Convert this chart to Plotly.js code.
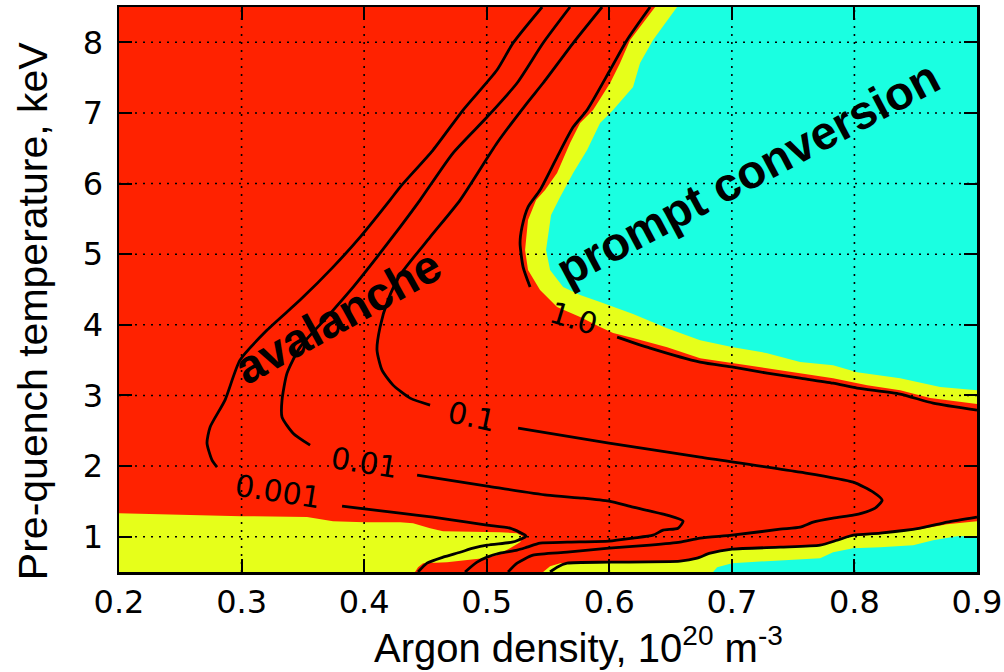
<!DOCTYPE html>
<html><head><meta charset="utf-8">
<script src="https://cdn.plot.ly/plotly-3.0.1.min.js"></script>
<style>html,body{margin:0;padding:0;background:#fff}#chart{width:1004px;height:672px}</style>
</head><body><div id="chart"></div>
<script>
// ---- axis ticks ----
var xTicks = [0.2,0.3,0.4,0.5,0.6,0.7,0.8,0.9];
var yTicks = [1,2,3,4,5,6,7,8];

// ---- filled regions (boundaries) ----
var yelBLX = [0.2,0.2,0.2996,0.3534,0.3746,0.4,0.4293,0.4399,0.4538,0.4644,0.5109,0.5248,0.5297,0.5272,0.519,0.5084,0.497,0.4807,0.4676,0.4481,0.444,0.4415];
var yelBLY = [0.5,1.333,1.291,1.277,1.22,1.206,1.206,1.191,1.12,1.078,1.064,1.05,0.993,0.922,0.837,0.738,0.696,0.667,0.639,0.625,0.568,0.5];

var yelTRX = [0.6374,0.617,0.6088,0.6007,0.5868,0.5762,0.568,0.5574,0.5476,0.5403,0.5337,0.5313,0.5337,0.5435,0.5574,0.5762,0.5925,0.6031,0.6194,0.6472,0.6741,0.701,0.7288,0.7557,0.7826,0.8104,0.8373,0.8618,0.9,0.9];
var yelTRY = [8.5,8.033,7.707,7.424,7.041,6.857,6.574,6.149,5.908,5.766,5.483,5.058,4.775,4.492,4.251,4.109,3.968,3.883,3.812,3.684,3.528,3.458,3.387,3.316,3.245,3.146,3.075,2.962,2.877,8.5];

var cyaTRX = [0.6553,0.6357,0.6251,0.6194,0.6031,0.5925,0.5819,0.5705,0.5599,0.5525,0.5484,0.5517,0.5623,0.5762,0.5925,0.6194,0.6472,0.6741,0.701,0.7288,0.7557,0.7826,0.8022,0.8373,0.87,0.9,0.9];
var cyaTRY = [8.5,8.033,7.707,7.367,7.041,6.857,6.474,6.149,5.809,5.554,5.058,4.775,4.534,4.421,4.322,4.152,3.953,3.783,3.684,3.599,3.472,3.429,3.33,3.245,3.118,3.075,8.5];

var yelBRX = [0.546,0.5517,0.5599,0.5998,0.6578,0.6716,0.6823,0.7002,0.7394,0.772,0.7859,0.799,0.821,0.8536,0.8756,0.9,0.9];
var yelBRY = [0.5,0.582,0.625,0.639,0.653,0.696,0.766,0.823,0.851,0.88,0.95,1.007,1.036,1.106,1.177,1.22,0.5];

var cyaBRX = [0.6847,0.688,0.7002,0.7614,0.772,0.7826,0.799,0.821,0.8479,0.8642,0.8838,0.9,0.9];
var cyaBRY = [0.5,0.568,0.625,0.682,0.696,0.78,0.837,0.851,0.88,0.95,1.007,1.007,0.5];

// ---- contour lines (split where labels sit) ----
var c001aX = [0.5452,0.5215,0.5084,0.4807,0.4562,0.4293,0.4211,0.3967,0.3746,0.3477,0.3208,0.2987,0.2865,0.2743,0.2718,0.2759,0.2800];
var c001aY = [8.5,7.99,7.608,7.041,6.474,5.95,5.766,5.242,4.817,4.35,3.925,3.5,2.934,2.551,2.325,2.084,1.985];
var c001bX = [0.382,0.4293,0.4562,0.484,0.5003,0.519,0.5321,0.5256,0.5207,0.5003,0.4889,0.4783,0.4644,0.4513,0.444];
var c001bY = [1.432,1.333,1.277,1.206,1.163,1.12,1.007,0.95,0.922,0.88,0.837,0.78,0.71,0.625,0.5];

var c01aX = [0.568,0.546,0.5248,0.5003,0.4725,0.4456,0.4293,0.4105,0.391,0.3697,0.3477,0.3371,0.333,0.333,0.342,0.3559];
var c01aY = [8.5,7.99,7.424,6.942,6.432,5.766,5.384,4.959,4.534,4.109,3.684,3.316,2.934,2.693,2.466,2.296];
var c01bX = [0.4432,0.5003,0.5492,0.5786,0.5998,0.6194,0.6472,0.6602,0.6561,0.6439,0.6357,0.6194,0.5998,0.5656,0.5435,0.5329,0.5248,0.5109,0.5003,0.4921,0.4823];
var c01bY = [1.871,1.716,1.588,1.546,1.503,1.418,1.305,1.22,1.12,1.092,1.021,0.979,0.936,0.922,0.908,0.851,0.809,0.766,0.71,0.639,0.5];

var c1aX = [0.5941,0.5705,0.546,0.5329,0.5084,0.4783,0.4538,0.4293,0.4195,0.413,0.4105,0.4146,0.4236,0.4375,0.4538];
var c1aY = [8.5,7.99,7.424,7.14,6.574,5.766,5.242,4.704,4.35,3.968,3.642,3.358,3.146,2.962,2.863];
var c1bX = [0.5256,0.5998,0.6741,0.7557,0.799,0.8153,0.8226,0.8169,0.8063,0.799,0.7826,0.7663,0.7557,0.7394,0.7002,0.6741,0.6578,0.6333,0.5998,0.5656,0.5378,0.5248,0.5174];
var c1bY = [2.537,2.325,2.126,1.914,1.772,1.63,1.517,1.404,1.333,1.305,1.262,1.206,1.135,1.106,1.021,0.979,0.922,0.88,0.837,0.78,0.738,0.625,0.5];

var c10aX = [0.6333,0.6145,0.6007,0.5819,0.5705,0.5574,0.5435,0.5337,0.5288,0.5272,0.5297,0.5354];
var c10aY = [8.5,8.033,7.608,7.041,6.8,6.375,5.908,5.667,5.384,5.157,4.817,4.534];
var c10bX = [0.6064,0.6333,0.6741,0.701,0.7288,0.7557,0.7826,0.8022,0.8373,0.8642,0.9];
var c10bY = [3.826,3.67,3.472,3.401,3.316,3.245,3.174,3.104,3.019,2.891,2.792];
var c10cX = [0.9,0.8756,0.8536,0.821,0.799,0.7859,0.772,0.7394,0.7002,0.6823,0.6716,0.6578,0.5998,0.5656,0.5574,0.5517];
var c10cY = [1.277,1.206,1.12,1.05,1.021,0.95,0.88,0.851,0.823,0.766,0.696,0.653,0.639,0.625,0.568,0.5];

// ---- contour labels ----
var labelText = ['0.001','0.01','0.1','1.0'];
var labelX = [0.3297,0.4,0.488,0.5713];
var labelY = [1.646,2.056,2.707,4.095];

var RED = '#ff2200', YEL = '#e6ff1a', CYA = '#1affe1';

function fillTrace(x, y, c){
  return {x:x, y:y, type:'scatter', mode:'lines', fill:'toself', fillcolor:c,
          line:{width:0, color:c}, hoverinfo:'skip', showlegend:false};
}
function lineTrace(x, y){
  return {x:x, y:y, type:'scatter', mode:'lines', line:{color:'#000', width:2.8, shape:'spline', smoothing:0.6},
          hoverinfo:'skip', showlegend:false};
}

var traces = [
  fillTrace(yelBLX, yelBLY, YEL),
  fillTrace(yelTRX, yelTRY, YEL),
  fillTrace(cyaTRX, cyaTRY, CYA),
  fillTrace(yelBRX, yelBRY, YEL),
  fillTrace(cyaBRX, cyaBRY, CYA),
  lineTrace(c001aX, c001aY), lineTrace(c001bX, c001bY),
  lineTrace(c01aX, c01aY), lineTrace(c01bX, c01bY),
  lineTrace(c1aX, c1aY), lineTrace(c1bX, c1bY),
  lineTrace(c10aX, c10aY), lineTrace(c10bX, c10bY), lineTrace(c10cX, c10cY)
];

var xr = [0.2, 0.9], yr = [0.5, 8.5];
var shapes = [];
xTicks.forEach(function(v){ if (v > xr[0] && v < xr[1]) shapes.push({type:'line', layer:'above', xref:'x', yref:'paper', x0:v, x1:v, y0:0, y1:1, line:{color:'#000', width:1.6, dash:'2px,6px'}}); });
yTicks.forEach(function(v){ if (v > yr[0] && v < yr[1]) shapes.push({type:'line', layer:'above', xref:'paper', yref:'y', x0:0, x1:1, y0:v, y1:v, line:{color:'#000', width:1.6, dash:'2px,6px'}}); });

var labelAngles = [9, 9, 12, 17];
var annotations = labelText.map(function(t, i){
  return {x:labelX[i], y:labelY[i], xref:'x', yref:'y', text:t, showarrow:false,
          textangle:labelAngles[i], xanchor:'center', yanchor:'middle',
          font:{family:'DejaVu Sans', size:30, color:'#000'}};
});
annotations.push({x:0.3779, y:4.123, xref:'x', yref:'y', text:'<b>avalanche</b>', showarrow:false,
  textangle:-29, xanchor:'center', yanchor:'middle', font:{family:'Liberation Sans, Arial, sans-serif', size:47, color:'#000'}});
annotations.push({x:0.7135, y:6.15, xref:'x', yref:'y', text:'<b>prompt conversion</b>', showarrow:false,
  textangle:-28, xanchor:'center', yanchor:'middle', font:{family:'Liberation Sans, Arial, sans-serif', size:47, color:'#000'}});
annotations.push({x:0.535, y:-0.13, xref:'paper', yref:'paper', text:'Argon density, 10<sup>20</sup> m<sup>-3</sup>', showarrow:false,
  xanchor:'center', yanchor:'middle', font:{family:'Liberation Sans, Arial, sans-serif', size:40, color:'#000'}});
annotations.push({x:-0.1, y:0.462, xref:'paper', yref:'paper', text:'Pre-quench temperature, keV', showarrow:false,
  textangle:-90, xanchor:'center', yanchor:'middle', font:{family:'Liberation Sans, Arial, sans-serif', size:41, color:'#000'}});

var axisCommon = {showgrid:false, zeroline:false, showline:true, linecolor:'#000', linewidth:2.5,
  mirror:'ticks', ticks:'inside', ticklen:13, tickwidth:2, tickcolor:'#000', layer:'above traces',
  tickfont:{family:'DejaVu Sans', size:32, color:'#000'}, fixedrange:true};

var layout = {
  width:1004, height:672,
  margin:{l:119, r:27, t:7, b:100, pad:0},
  paper_bgcolor:'#fff', plot_bgcolor:RED,
  showlegend:false,
  xaxis:Object.assign({}, axisCommon, {range:xr, tickvals:xTicks, ticktext:xTicks.map(function(v){return v.toFixed(1);}), ticklabelstandoff:0}),
  yaxis:Object.assign({}, axisCommon, {range:yr, tickvals:yTicks, ticklabelstandoff:7}),
  shapes:shapes,
  annotations:annotations
};

Plotly.newPlot('chart', traces, layout, {staticPlot:true, displayModeBar:false});
</script></body></html>
